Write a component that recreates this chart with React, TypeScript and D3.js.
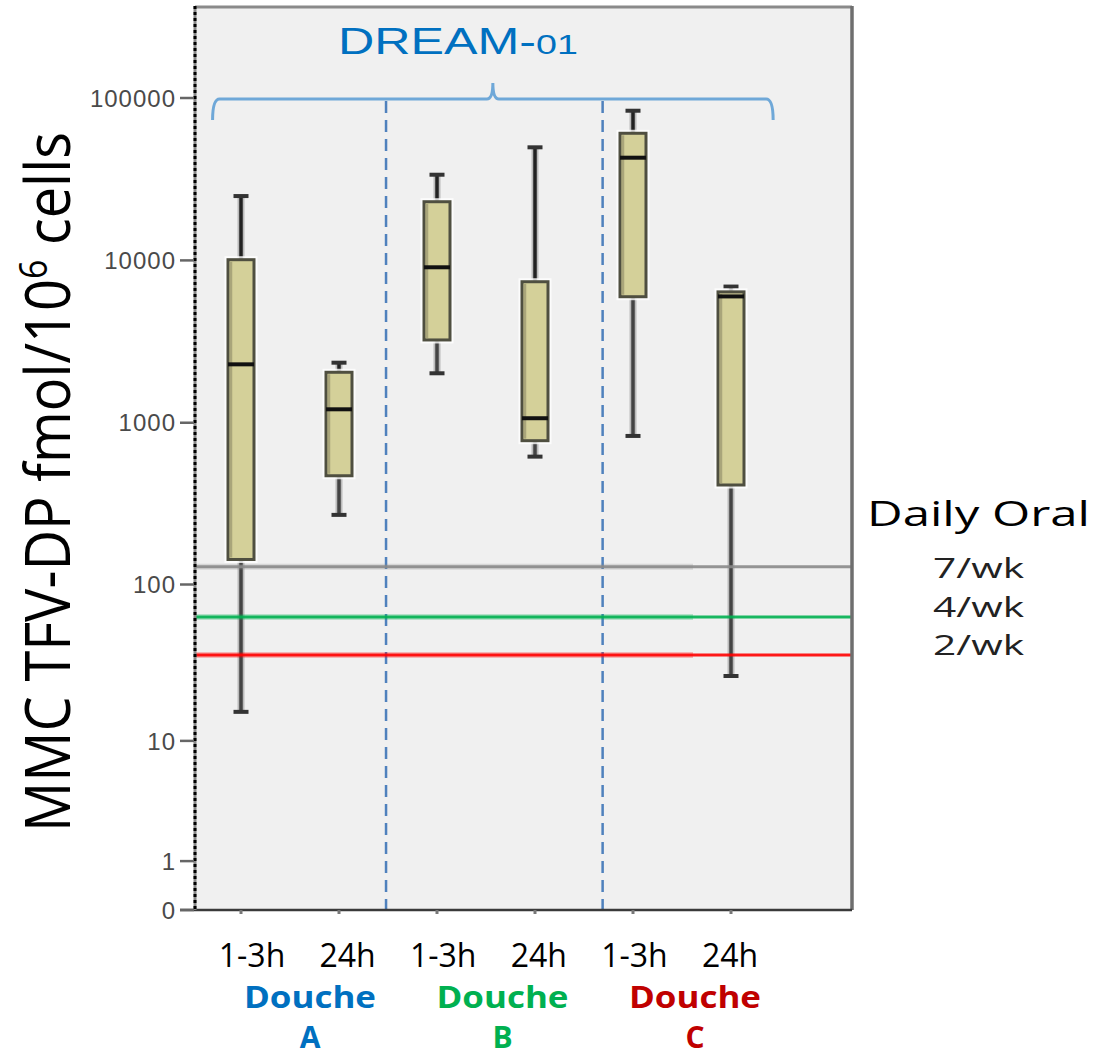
import React from "react";
import * as d3 from "d3";

// ---- data ----
const categories = ["A 1-3h", "A 24h", "B 1-3h", "B 24h", "C 1-3h", "C 24h"];
const timeLabels = ["1-3h", "24h", "1-3h", "24h", "1-3h", "24h"];
const groups = ["A", "B", "C"];
const groupColors = ["#0070c0", "#00b050", "#c00000"];
const whiskerLow = [15.6, 270, 2017, 618, 829, 26.6];
const q1 = [143, 471, 3236, 775, 5975, 413];
const median = [2290, 1210, 9070, 1066, 42900, 6000];
const q3 = [10100, 2046, 22980, 7390, 60650, 6400];
const whiskerHigh = [24900, 2344, 33700, 49700, 83500, 6900];
const yTicks = [0, 1, 10, 100, 1000, 10000, 100000];
const refValues = [129, 62.7, 36.2];
const refLabels = ["7/wk", "4/wk", "2/wk"];
const refColors = ["#8a8a8a", "#00b050", "#ff0000"];
const dividerIdx = [1.48, 3.69];
const bracketIdx = [-0.29, 2.57, 5.43];

// ---- layout ----
const W = 1099, H = 1058;
const L = 195, R = 852, T = 6, B = 910;

export default function App() {
  const y = d3.scaleSymlog().constant(1).domain([0, 368600]).range([B, T]);
  const x = d3.scalePoint<string>().domain(categories).range([241, 731]);
  const xi = d3.scaleLinear().domain([0, 5]).range([241, 731]);
  const xl = d3.scalePoint<string>().domain(categories).range([252, 730]);
  const xg = d3.scalePoint<string>().domain(groups).range([310, 695]);
  const bw = 26;
  const capW = 15;

  const by = 99;
  const [b0, bm, b1] = bracketIdx.map((v) => xi(v));
  const bracketPath = `M${b0},${by + 21} Q${b0},${by} ${b0 + 7},${by} L${bm - 6},${by} Q${bm},${by} ${bm},${by - 16} Q${bm},${by} ${bm + 6},${by} L${b1 - 7},${by} Q${b1},${by} ${b1},${by + 21}`;

  return (
    <svg width={W} height={H} style={{ position: "absolute", left: 0, top: 0, background: "#fff" }}>
      {/* plot background */}
      <rect x={L} y={T} width={R - L} height={B - T} fill="#f0f0f0" />

      {/* dashed dividers */}
      {dividerIdx.map((d, i) => (
        <line key={i} x1={xi(d)} x2={xi(d)} y1={by + 2} y2={B} stroke="#4f81bd" strokeWidth={2.5} strokeDasharray="12,7" />
      ))}

      {/* bracket */}
      <path d={bracketPath} fill="none" stroke="#6fa8d8" strokeWidth={3} />
      <text x={338} y={54} fontFamily="'Liberation Sans', Arial, sans-serif" fontSize={36} fill="#0070c0" textLength={240} lengthAdjust="spacingAndGlyphs">
        DREAM-<tspan fontSize={27}>01</tspan>
      </text>

      {/* boxes */}
      {categories.map((c, i) => {
        const cx = x(c)!;
        return (
          <g key={c}>
            <line x1={cx} x2={cx} y1={y(whiskerHigh[i])} y2={y(q3[i])} stroke="#bbb" strokeWidth={7} />
            <line x1={cx} x2={cx} y1={y(q1[i])} y2={y(whiskerLow[i])} stroke="#bbb" strokeWidth={7} />
            <line x1={cx} x2={cx} y1={y(whiskerHigh[i])} y2={y(q3[i])} stroke="#222" strokeWidth={3.5} />
            <line x1={cx} x2={cx} y1={y(q1[i])} y2={y(whiskerLow[i])} stroke="#444" strokeWidth={3.5} />
            <line x1={cx - capW / 2} x2={cx + capW / 2} y1={y(whiskerHigh[i])} y2={y(whiskerHigh[i])} stroke="#333" strokeWidth={4} />
            <line x1={cx - capW / 2} x2={cx + capW / 2} y1={y(whiskerLow[i])} y2={y(whiskerLow[i])} stroke="#333" strokeWidth={4} />
            <rect x={cx - bw / 2} y={y(q3[i])} width={bw} height={y(q1[i]) - y(q3[i])} fill="none" stroke="#ffffff" strokeOpacity={0.8} strokeWidth={7} />
            <rect x={cx - bw / 2} y={y(q3[i])} width={bw} height={y(q1[i]) - y(q3[i])} fill="#d4d099" stroke="#4f4f40" strokeWidth={3} />
            <line x1={cx - bw / 2 + 3} x2={cx - bw / 2 + 3} y1={y(q3[i]) + 2} y2={y(q1[i]) - 2} stroke="#a9a57a" strokeWidth={2.5} />
            <line x1={cx - bw / 2} x2={cx + bw / 2} y1={y(median[i])} y2={y(median[i])} stroke="#111" strokeWidth={4} />
          </g>
        );
      })}

      {/* reference lines */}
      {refValues.map((v, i) => (
        <g key={i}>
          <line x1={L} x2={693} y1={y(v)} y2={y(v)} stroke={refColors[i]} strokeOpacity={0.25} strokeWidth={6} />
          <line x1={L} x2={R} y1={y(v)} y2={y(v)} stroke={refColors[i]} strokeOpacity={0.9} strokeWidth={3} />
        </g>
      ))}

      {/* borders */}
      <line x1={L} x2={R} y1={T + 1} y2={T + 1} stroke="#8a8a8a" strokeWidth={3} />
      <line x1={R} x2={R} y1={T} y2={B} stroke="#6e6e6e" strokeWidth={3.5} />
      <line x1={180} x2={R} y1={B} y2={B} stroke="#3a3a3a" strokeWidth={2.5} />
      <line x1={L} x2={L} y1={T} y2={B} stroke="#888" strokeWidth={3} />
      <line x1={L} x2={L} y1={T} y2={B} stroke="#000" strokeWidth={3} strokeDasharray="3,3" />

      {/* y ticks */}
      {yTicks.map((t) => (
        <g key={t}>
          <line x1={180} x2={L - 1} y1={y(t)} y2={y(t)} stroke="#666" strokeWidth={2.5} />
          <text x={176} y={y(t)} dy="0.36em" textAnchor="end" fontFamily="'Liberation Sans', Arial, sans-serif" fontSize={24} fill="#4a4a4a" letterSpacing={1}>
            {t}
          </text>
        </g>
      ))}

      {/* x ticks */}
      {categories.map((c) => (
        <line key={c} x1={x(c)} x2={x(c)} y1={B} y2={B + 4} stroke="#777" strokeWidth={3} />
      ))}
      {categories.map((c, i) => (
        <text key={c} x={xl(c)} y={967} textAnchor="middle" fontFamily="'Open Sans', sans-serif" fontSize={32} fill="#000">
          {timeLabels[i]}
        </text>
      ))}
      {groups.map((g, i) => (
        <g key={g}>
          <text x={xg(g)} y={1008} textAnchor="middle" fontFamily="'Open Sans', sans-serif" fontWeight={700} fontSize={30} fill={groupColors[i]} textLength={132} lengthAdjust="spacingAndGlyphs">
            Douche
          </text>
          <text x={xg(g)} y={1048} textAnchor="middle" fontFamily="'Open Sans', sans-serif" fontWeight={700} fontSize={30} fill={groupColors[i]}>
            {g}
          </text>
        </g>
      ))}

      {/* y title */}
      <text transform="translate(70,482) rotate(-90)" textAnchor="middle" fontFamily="'Open Sans', sans-serif" fontSize={63} fill="#000" textLength={700} lengthAdjust="spacingAndGlyphs">
        MMC TFV-DP fmol/10<tspan fontSize={38} dy={-23}>6</tspan><tspan dy={23}> cells</tspan>
      </text>

      {/* legend */}
      <text x={867} y={526} fontFamily="'Open Sans', sans-serif" fontSize={35} fill="#000" textLength={223} lengthAdjust="spacingAndGlyphs">
        Daily Oral
      </text>
      {refLabels.map((lab, i) => (
        <text key={lab} x={933} y={[578, 617, 655][i]} fontFamily="'Open Sans', sans-serif" fontSize={28} fill="#222" textLength={91} lengthAdjust="spacingAndGlyphs">
          {lab}
        </text>
      ))}
    </svg>
  );
}
